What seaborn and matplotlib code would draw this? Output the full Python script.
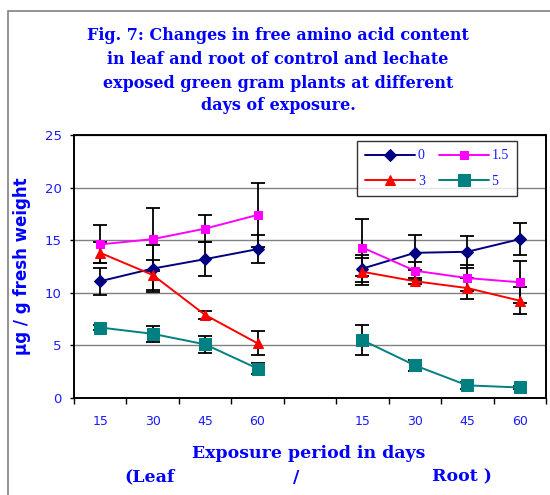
# Free amino acid content in leaf and root of green gram plants (Fig. 7)

import numpy as np
import pandas as pd
import matplotlib
matplotlib.use('Agg')
import matplotlib.pyplot as plt
from matplotlib.patches import Rectangle
import seaborn as sns

sns.set_style('white')

# categories on the x axis (blank slot separates leaf and root)
days = ['15', '30', '45', '60']
tick_labels = days + [''] + days
leaf_pos = [0, 1, 2, 3]
root_pos = [5, 6, 7, 8]

concentrations = ['0', '1.5', '3', '5']

# leaf values and standard errors
leaf_0 = [11.1, 12.3, 13.2, 14.15]
leaf_0_err = [1.3, 2.2, 1.65, 1.3]
leaf_15 = [14.6, 15.1, 16.1, 17.4]
leaf_15_err = [1.8, 3.0, 1.3, 3.0]
leaf_3 = [13.8, 11.7, 7.9, 5.2]
leaf_3_err = [1.0, 1.4, 0.4, 1.15]
leaf_5 = [6.7, 6.1, 5.1, 2.8]
leaf_5_err = [0.2, 0.75, 0.8, 0.5]

# root values and standard errors
root_0 = [12.3, 13.8, 13.9, 15.1]
root_0_err = [1.3, 1.65, 1.5, 1.5]
root_15 = [14.3, 12.1, 11.4, 11.0]
root_15_err = [2.7, 0.85, 1.2, 2.0]
root_3 = [12.0, 11.1, 10.45, 9.25]
root_3_err = [1.3, 0.3, 1.0, 1.3]
root_5 = [5.5, 3.1, 1.2, 1.0]
root_5_err = [1.4, 0.55, 0.3, 0.15]

leaf_vals = [leaf_0, leaf_15, leaf_3, leaf_5]
leaf_errs = [leaf_0_err, leaf_15_err, leaf_3_err, leaf_5_err]
root_vals = [root_0, root_15, root_3, root_5]
root_errs = [root_0_err, root_15_err, root_3_err, root_5_err]

colors = ['#000080', '#ff00ff', '#ff0000', '#008080']
markers = ['D', 's', '^', 's']
msizes = [6, 6, 7.5, 8]

blue = '#1a1aff'

fig = plt.figure(figsize=(5.5, 4.95), dpi=100)
ax = fig.add_axes([74 / 550, 1 - 398 / 495, 472 / 550, 263 / 495])

# outer grey frame of the chart area
fig.patches.append(Rectangle((8 / 550, -0.1), 1.2, 1.1 - 11 / 495, transform=fig.transFigure,
                             fill=False, edgecolor='#808080', linewidth=1.2))

handles = []
for i, conc in enumerate(concentrations):
    df = pd.DataFrame({
        'pos': leaf_pos + root_pos,
        'val': leaf_vals[i] + root_vals[i],
        'err': leaf_errs[i] + root_errs[i],
        'part': ['Leaf'] * 4 + ['Root'] * 4,
    })
    ax.errorbar(df['pos'], df['val'], yerr=df['err'], fmt='none', ecolor='black',
                elinewidth=1.3, capsize=5, capthick=1.3, zorder=2)
    sns.lineplot(data=df, x='pos', y='val', units='part', estimator=None, color=colors[i],
                 marker=markers[i], markersize=msizes[i], markeredgecolor=colors[i],
                 linewidth=1.4, ax=ax, legend=False, zorder=3)
    handles.append(ax.lines[-1])

ax.set_xlim(-0.5, 8.5)
ax.set_ylim(0, 25)
ax.set_yticks(np.arange(0, 26, 5))
ax.set_xticks(range(9))
ax.set_xticklabels(tick_labels)
ax.set_xticks(np.arange(-0.5, 9, 1), minor=True)
ax.tick_params(axis='x', which='major', length=0, pad=12, labelsize=9, labelcolor=blue)
ax.tick_params(axis='x', which='minor', length=4, width=1, color='black', direction='out', bottom=True)
ax.tick_params(axis='y', length=3, width=1, color='black', direction='out', left=True, pad=6,
               labelsize=9.5, labelcolor=blue)
ax.yaxis.grid(True, color='#808080', linewidth=1)
ax.set_axisbelow(True)
for s in ax.spines.values():
    s.set_color('black')
    s.set_linewidth(1.4)

ax.set_xlabel('')
ax.set_ylabel('µg / g fresh weight', color='#0000ff', fontweight='bold', fontsize=12, labelpad=10)

# legend rows: 0, 1.5 / 3, 5 (matplotlib fills columns first)
order = [0, 2, 1, 3]
leg = ax.legend([handles[k] for k in order], [concentrations[k] for k in order], ncol=2,
                loc='upper right', bbox_to_anchor=(0.9386, 0.977), borderaxespad=0,
                frameon=True, fancybox=False, edgecolor='black', handlelength=3.6, columnspacing=1.0,
                borderpad=0.6, labelspacing=0.9, handletextpad=0.2,
                prop={'family': 'Liberation Serif', 'size': 10})
leg.get_frame().set_linewidth(1)
for t in leg.get_texts():
    t.set_color(blue)

title = ['Fig. 7: Changes in free amino acid content',
         'in leaf and root of control and lechate',
         'exposed green gram plants at different',
         'days of exposure.']
for k, line in enumerate(title):
    fig.text(278 / 550, 1 - [35, 59, 83, 106][k] / 495, line, ha='center', va='center',
             family='DejaVu Serif', fontweight='bold', fontsize=11.5, color='#0000ff')

fig.text(309 / 550, 1 - 453 / 495, 'Exposure period in days', ha='center', va='center',
         family='DejaVu Serif', fontweight='bold', fontsize=12.5, color='#0000ff')
fig.text(150 / 550, 1 - 477 / 495, '(Leaf', ha='center', va='center',
         family='DejaVu Serif', fontweight='bold', fontsize=12.5, color='#0000ff')
fig.text(296 / 550, 1 - 477 / 495, '/', ha='center', va='center',
         family='DejaVu Serif', fontweight='bold', fontsize=12.5, color='#0000ff')
fig.text(462 / 550, 1 - 477 / 495, 'Root )', ha='center', va='center',
         family='DejaVu Serif', fontweight='bold', fontsize=12.5, color='#0000ff')

fig.savefig('out.png', dpi=100)
